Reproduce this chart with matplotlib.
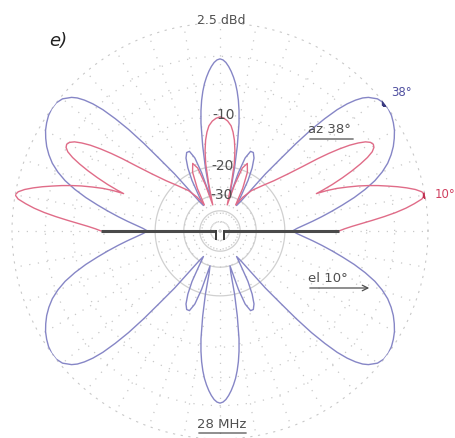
import numpy as np
import matplotlib.pyplot as plt
from matplotlib.lines import Line2D

# ARRL-style azimuth pattern, 28 MHz, values in dB (0 dB = 2.5 dBd)
# quadrant 0..90 deg, pattern is symmetric about the vertical axis
blue_ang = [0, 2, 4, 6, 8, 10, 12, 14, 16, 18, 20, 22, 24, 26, 28, 30, 32, 34, 36, 38, 40, 42, 43, 44,
            45, 46, 47, 48, 49, 50, 51.5, 53, 55, 57, 59, 61, 63, 65, 67, 69, 71, 72.5, 74, 75.5, 77,
            78.5, 80, 81, 82, 83, 84, 85, 86, 87, 88, 89, 90]
blue_db = [-18.1, -17.0, -15.5, -13.8, -12.1, -10.4, -8.7, -7.0, -5.5, -4.2, -3.2, -2.4, -1.8, -1.3,
           -0.9, -0.55, -0.3, -0.1, 0, 0, -0.2, -0.7, -1.1, -1.7, -2.5, -3.6, -5.2, -7.2, -10, -13.5,
           -18, -24, -30, -33, -28, -22, -18.5, -16.3, -15.3, -15.3, -17, -21, -30, -27, -20,
           -15, -11, -9.2, -7.8, -6.7, -5.8, -5.1, -4.5, -4.0, -3.6, -3.35, -3.25]

red_ang = [0, 1, 2, 3, 4, 5, 6, 7, 8, 9, 10, 11, 12, 13, 14, 15, 16, 17, 18, 19, 20, 20.7, 21.2, 21.7,
           22.5, 23.5, 24.5, 25.5, 26.5, 27.5, 28.5, 29.5, 30.5, 31.5, 32.5, 33.5, 34.5, 35.5, 36.5,
           38, 40, 43, 47, 52, 56, 59, 62, 65, 68, 70.5, 72.5, 74.5, 76.5, 78, 79.5, 81, 82.5, 84,
           86, 88, 90]
red_db = [-9.6, -8.8, -7.8, -6.6, -5.3, -4.0, -2.8, -1.8, -1.0, -0.3, 0, -0.2, -0.7, -1.4, -2.2, -3.1,
          -4.0, -5.0, -6.1, -7.4, -8.8, -10.2, -12, -10.8, -9.2, -7.6, -6.2, -5.0, -4.0, -3.3, -2.95,
          -2.85, -3.0, -3.4, -4.1, -5.0, -6.2, -7.6, -9.2, -11.8, -14.6, -17.8, -20.8, -24, -28, -33,
          -25, -20, -18, -19.5, -25, -35, -25, -19, -16, -14, -12.6, -11.6, -10.9, -10.5, -10.3]

ring_db = [-10, -20, -30]
ring_labels = ['-10', '-20', '-30']

blue_c = '#8686c6'
red_c = '#e06c88'
txt_c = '#505050'


def arrl(db):
    # ARRL log scale: each 2 dB step shrinks the radius by 0.89
    return 0.89 ** (-np.asarray(db, dtype=float) / 2)


def full_upper(ang, val):
    a = np.asarray(ang, dtype=float)
    v = np.asarray(val, dtype=float)
    return np.concatenate([a, 180 - a[::-1]]), np.concatenate([v, v[::-1]])


W, H = 455, 438
fig = plt.figure(figsize=(W / 100, H / 100), dpi=100)
cx, cy, R = 220, 231, 208
ax = fig.add_axes([(cx - R) / W, 1 - (cy + R) / H, 2 * R / W, 2 * R / H], projection='polar')
ax.set_theta_zero_location('E')
ax.set_ylim(0, 1)

# grid
ax.set_thetagrids(np.arange(0, 360, 10))
ax.set_rgrids(arrl([-10, -6, -3]))
ax.tick_params(labelbottom=False, labelleft=False)
ax.grid(color='#c8c8c8', linestyle=(0, (1, 6)), linewidth=0.9)
ax.spines['polar'].set_linestyle((0, (1, 6)))
ax.spines['polar'].set_color('#c8c8c8')
circ = np.linspace(0, 2 * np.pi, 361)
for d in [-20, -30, -40]:
    ax.plot(circ, np.full_like(circ, arrl(d)), color='#d0d0d0', lw=0.9, zorder=1)

# blue pattern: upper half and mirrored lower half
ba, bv = full_upper(blue_ang, blue_db)
ba_all = np.concatenate([ba, 360 - ba[::-1]])
bv_all = np.concatenate([bv, bv[::-1]])
ax.plot(np.radians(ba_all), arrl(bv_all), color=blue_c, lw=1.0, zorder=3)

# red pattern: upper half only
ra, rv = full_upper(red_ang, red_db)
ax.plot(np.radians(ra), arrl(rv), color=red_c, lw=1.0, zorder=4)

# antenna / baseline
ax.plot([0, 0], [0.02, arrl(rv[0])], color='#4a4a4a', lw=2.2, zorder=5, solid_capstyle='butt')
ax.plot([np.pi, np.pi], [0.02, arrl(rv[-1])], color='#4a4a4a', lw=2.2, zorder=5, solid_capstyle='butt')


def fx(x):
    return x / W


def fy(y):
    return 1 - y / H


for x in (216, 224):
    fig.add_artist(Line2D([fx(x), fx(x)], [fy(231), fy(239)], color='#3a3a3a', lw=1.4))

# peak markers
ax.plot(np.radians(38), arrl(0), 's', color='#3a3a80', ms=2.5, zorder=6)
ax.plot(np.radians(10), arrl(0), 's', color='#c03050', ms=2.5, zorder=6)

for d, lab in zip(ring_db, ring_labels):
    ax.text(np.radians(88), arrl(d), lab, ha='center', va='center', fontsize=10, color=txt_c, zorder=7)

fig.text(fx(221), fy(20), '2.5 dBd', ha='center', va='center', fontsize=9, color=txt_c)
fig.text(fx(58), fy(41), 'e)', ha='center', va='center', fontsize=13, style='italic', color='#202020')
fig.text(fx(391), fy(92), '38°', ha='left', va='center', fontsize=8.5, color='#5050a0')
fig.text(fx(435), fy(195), '10°', ha='left', va='center', fontsize=8.5, color='#d04060')
fig.text(fx(308), fy(129), 'az 38°', ha='left', va='center', fontsize=9.5, color=txt_c)
fig.text(fx(308), fy(278), 'el 10°', ha='left', va='center', fontsize=9.5, color=txt_c)
fig.text(fx(222), fy(424), '28 MHz', ha='center', va='center', fontsize=9.5, color=txt_c)

ax.annotate('', xy=(fx(356), fy(139)), xytext=(fx(307), fy(139)), xycoords='figure fraction',
            arrowprops=dict(arrowstyle='-', color=txt_c, lw=0.9))
ax.annotate('', xy=(fx(372), fy(288)), xytext=(fx(307), fy(288)), xycoords='figure fraction',
            arrowprops=dict(arrowstyle='->', color=txt_c, lw=0.9))
ax.annotate('', xy=(fx(249), fy(433)), xytext=(fx(196), fy(433)), xycoords='figure fraction',
            arrowprops=dict(arrowstyle='-', color=txt_c, lw=0.9))

fig.savefig('out.png', dpi=100)
